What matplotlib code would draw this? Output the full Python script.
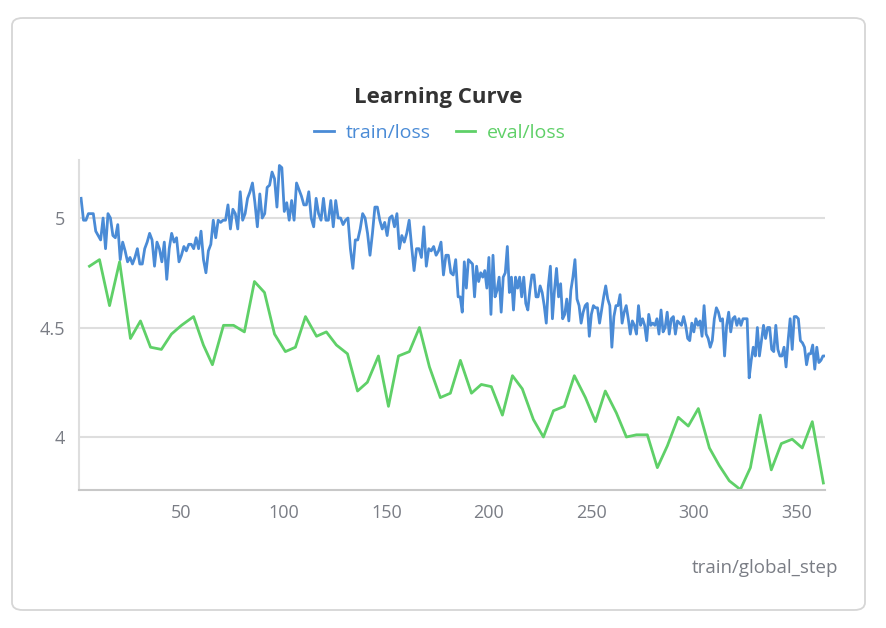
import numpy as np
import matplotlib
matplotlib.use("Agg")
import matplotlib.pyplot as plt
from matplotlib.patches import FancyBboxPatch

# =========================
# DATA
# =========================
train_loss_a = [
    5.09, 4.99, 4.99, 5.02, 5.02, 5.02, 4.94, 4.92, 4.90, 5.00, 4.86, 5.02, 5.00, 4.92, 4.91, 4.97,
    4.81, 4.89, 4.85, 4.80, 4.82, 4.79, 4.82, 4.86, 4.79, 4.79, 4.86, 4.89, 4.93, 4.90, 4.78, 4.89,
    4.86, 4.80, 4.89, 4.72, 4.86, 4.93, 4.89, 4.91, 4.80, 4.83, 4.87, 4.85, 4.88, 4.88, 4.86, 4.91,
    4.86, 4.94, 4.81, 4.75, 4.85, 4.88, 4.99, 4.91, 4.99, 4.98, 4.99, 4.99, 5.06, 4.95, 5.04, 5.02,
    4.95, 5.12, 4.99, 5.02, 5.09, 5.12, 5.16, 5.07, 4.96, 5.11, 5.00, 5.02, 5.14, 5.15, 5.21, 5.18,
    5.05, 5.24, 5.23, 5.03, 5.07, 4.99, 5.08, 4.99, 5.16, 5.13, 5.10, 5.06, 5.06, 5.12, 5.00, 4.96,
    5.09, 5.02, 4.99, 5.09, 4.99, 4.99, 5.08, 4.96, 5.08, 5.00, 5.00, 4.97, 4.99, 5.00, 4.86, 4.77,
    4.90, 4.90, 4.95, 5.02, 5.00, 4.93, 4.83, 4.93, 5.05, 5.05, 4.99, 4.95, 4.98, 4.92, 5.00, 5.01,
    4.96, 5.02, 4.86, 4.92, 4.89, 4.93, 4.99, 4.87, 4.76, 4.86, 4.86, 4.82, 4.96, 4.78, 4.86, 4.85,
    4.87, 4.83, 4.85, 4.89, 4.74, 4.83, 4.83, 4.75, 4.74, 4.81, 4.64,
]
train_loss_b = [
    4.64, 4.57, 4.80, 4.68, 4.81, 4.80, 4.79, 4.64, 4.78, 4.71, 4.75, 4.73, 4.76, 4.68, 4.82, 4.56,
    4.83, 4.64, 4.67, 4.73, 4.57, 4.73, 4.75, 4.87, 4.66, 4.73, 4.58, 4.73, 4.68, 4.73, 4.64, 4.73,
    4.61, 4.58, 4.67, 4.74, 4.74, 4.64, 4.64, 4.69, 4.66, 4.60, 4.52, 4.69, 4.78, 4.54, 4.67, 4.77,
    4.64, 4.70, 4.54, 4.56, 4.63, 4.53, 4.67, 4.73, 4.81, 4.63, 4.60, 4.52, 4.57, 4.60, 4.61, 4.46,
    4.56, 4.60, 4.59, 4.59, 4.52, 4.58, 4.64, 4.69, 4.63, 4.60, 4.41, 4.55, 4.60, 4.60, 4.65, 4.52,
    4.57, 4.60, 4.54, 4.47, 4.53, 4.51, 4.47, 4.60, 4.51, 4.54, 4.51, 4.44, 4.56, 4.51, 4.52, 4.51,
    4.54, 4.47, 4.58, 4.48, 4.50, 4.57, 4.47, 4.54, 4.55, 4.47, 4.53, 4.52, 4.51, 4.55, 4.51, 4.45,
    4.44, 4.52, 4.48, 4.54, 4.51, 4.53, 4.46, 4.60, 4.47, 4.45, 4.41, 4.44, 4.54, 4.59, 4.57, 4.53,
    4.54, 4.37, 4.51, 4.57, 4.48, 4.54, 4.55, 4.51, 4.54, 4.51, 4.54, 4.54, 4.54, 4.27, 4.35, 4.41,
    4.37, 4.50, 4.37, 4.44, 4.51, 4.45, 4.50, 4.50, 4.40, 4.39, 4.51, 4.40, 4.37, 4.37, 4.41, 4.32,
    4.44, 4.54, 4.40, 4.55, 4.55, 4.54, 4.44, 4.43, 4.41, 4.33, 4.38, 4.38, 4.42, 4.31, 4.41, 4.34,
    4.35, 4.37, 4.37,
]
eval_step = [
    5.1, 10.0, 14.9, 19.8, 25.1, 30.0, 34.9, 40.2, 45.1, 50.0, 55.9, 60.7, 65.1, 70.5, 75.4, 80.7,
    85.6, 90.5, 95.4, 100.7, 105.6, 110.5, 115.9, 120.7, 125.6, 131.0, 135.9, 140.7, 146.1, 151.0,
    155.9, 161.2, 166.1, 171.0, 176.3, 181.2, 186.1, 191.5, 196.3, 201.2, 206.6, 211.5, 216.3,
    221.7, 226.6, 231.5, 236.8, 241.7, 247.1, 252.0, 256.8, 262.2, 267.1, 272.0, 277.3, 282.2,
    287.1, 292.4, 297.3, 302.2, 307.6, 312.4, 317.3, 322.7, 327.6, 332.4, 337.8, 342.7, 348.0,
    352.9, 357.8, 363.2,
]
eval_loss = [
    4.78, 4.81, 4.60, 4.80, 4.45, 4.53, 4.41, 4.40, 4.47, 4.51, 4.55, 4.42, 4.33, 4.51, 4.51, 4.48,
    4.71, 4.66, 4.47, 4.39, 4.41, 4.55, 4.46, 4.48, 4.42, 4.38, 4.21, 4.25, 4.37, 4.14, 4.37, 4.39,
    4.50, 4.32, 4.18, 4.20, 4.35, 4.20, 4.24, 4.23, 4.10, 4.28, 4.22, 4.08, 4.00, 4.12, 4.14, 4.28,
    4.18, 4.07, 4.21, 4.11, 4.00, 4.01, 4.01, 3.86, 3.96, 4.09, 4.05, 4.13, 3.95, 3.87, 3.80, 3.76,
    3.86, 4.10, 3.85, 3.97, 3.99, 3.95, 4.07, 3.79,
]
y_ticks = [4, 4.5, 5]
x_ticks = [50, 100, 150, 200, 250, 300, 350]

# =========================
# STYLE
# =========================
BLUE = "#4a8bd6"
GREEN = "#5fd068"
TEXT = "#7a7d85"
plt.rcParams["font.family"] = ["Open Sans", "DejaVu Sans"]

train_loss = train_loss_a + train_loss_b
train_step = np.concatenate([
    np.linspace(1, 185, len(train_loss_a)),
    np.linspace(186, 364, len(train_loss_b)),
])

# =========================
# PLOT
# =========================
fig = plt.figure(figsize=(8.86, 6.28), dpi=100)
card = FancyBboxPatch((12 / 886, 18 / 628), 853 / 886, 592 / 628,
                      boxstyle="round,pad=0,rounding_size=0.012",
                      transform=fig.transFigure, facecolor="white",
                      edgecolor="#d6d6d6", linewidth=1.3, zorder=-5)
fig.patches.append(card)

ax = fig.add_axes([79 / 886, 1 - 490 / 628, 746 / 886, 330 / 628])
ax.patch.set_alpha(0)
ax.plot(train_step, train_loss, color=BLUE, lw=2.0, label="train/loss")
ax.plot(eval_step, eval_loss, color=GREEN, lw=2.0, label="eval/loss")

ax.set_xlim(0, 364)
ax.set_ylim(3.758, 5.265)
ax.set_xticks(x_ticks)
ax.set_yticks(y_ticks)
ax.set_yticklabels(["4", "4.5", "5"])
ax.grid(axis="y", color="#dedede", lw=1.5)
ax.set_axisbelow(True)
ax.tick_params(length=0, labelsize=13, colors=TEXT, pad=10)
for s in ["top", "right"]:
    ax.spines[s].set_visible(False)
ax.spines["left"].set_color("#dedede")
ax.spines["bottom"].set_color("#c8c8c8")
ax.spines["left"].set_linewidth(1.5)
ax.spines["bottom"].set_linewidth(1.5)

fig.text(438 / 886, 1 - 97 / 628, "Learning Curve", ha="center", va="center",
         fontsize=16, fontweight="bold", color="#333333")
fig.legend(loc="center", bbox_to_anchor=(440 / 886, 1 - 133 / 628), ncol=2,
           frameon=False, fontsize=14, handlelength=1.0, columnspacing=1.3,
           handletextpad=0.6, labelcolor=[BLUE, GREEN])
fig.text(838 / 886, 1 - 568 / 628, "train/global_step", ha="right", va="center",
         fontsize=13.5, color=TEXT)

fig.savefig("out.png", dpi=100)
